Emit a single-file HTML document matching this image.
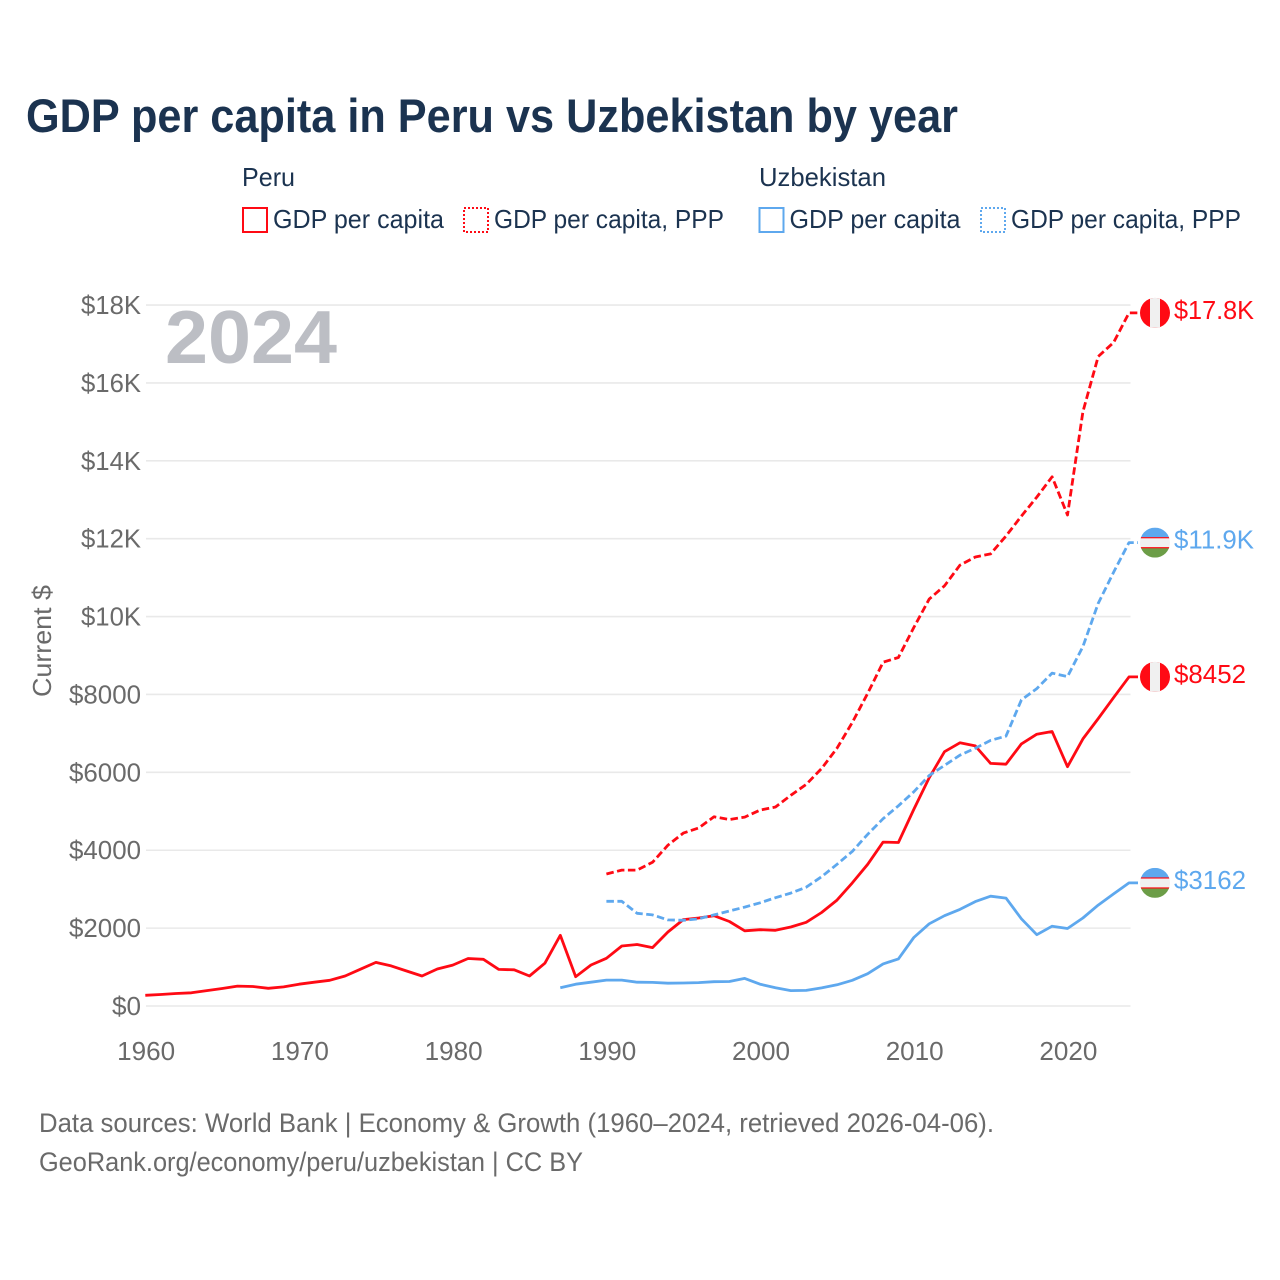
<!DOCTYPE html>
<html lang="en">
<head>
<meta charset="utf-8">
<title>GDP per capita in Peru vs Uzbekistan by year</title>
<style>
html,body{margin:0;padding:0;background:#fff;}
svg{display:block;}
text{font-family:"Liberation Sans",sans-serif;}
</style>
</head>
<body>
<svg id="chart" xmlns="http://www.w3.org/2000/svg" width="1280" height="1280" viewBox="0 0 1280 1280">
  <defs>
    <clipPath id="flag-clip"><circle cx="0" cy="0" r="15"/></clipPath>
  </defs>
  <rect x="0" y="0" width="1280" height="1280" fill="#ffffff"/>
  <text x="26" y="132" font-size="47" font-weight="700" fill="#1b3350" textLength="932" lengthAdjust="spacingAndGlyphs">GDP per capita in Peru vs Uzbekistan by year</text>

  <g font-size="26" fill="#1b3350">
    <text x="242" y="186" textLength="53" lengthAdjust="spacingAndGlyphs">Peru</text>
    <text x="759" y="186" textLength="127" lengthAdjust="spacingAndGlyphs">Uzbekistan</text>
    <g>
      <rect x="243" y="208" width="24" height="24" fill="none" stroke="#ff0a14" stroke-width="2"/>
      <text x="273" y="228" textLength="171" lengthAdjust="spacingAndGlyphs">GDP per capita</text>
    </g>
    <g>
      <rect x="464" y="208" width="24" height="24" fill="none" stroke="#ff0a14" stroke-width="2" stroke-dasharray="2 2"/>
      <text x="494" y="228" textLength="230" lengthAdjust="spacingAndGlyphs">GDP per capita, PPP</text>
    </g>
    <g>
      <rect x="759.5" y="208" width="24" height="24" fill="none" stroke="#5ea8ee" stroke-width="2"/>
      <text x="789.5" y="228" textLength="171" lengthAdjust="spacingAndGlyphs">GDP per capita</text>
    </g>
    <g>
      <rect x="981" y="208" width="24" height="24" fill="none" stroke="#5ea8ee" stroke-width="2" stroke-dasharray="2 2"/>
      <text x="1011" y="228" textLength="230" lengthAdjust="spacingAndGlyphs">GDP per capita, PPP</text>
    </g>
  </g>

  <g id="grid"></g>
  <g id="y-axis"></g>
  <g id="x-axis"></g>

  <text x="165" y="363" font-size="75" font-weight="700" fill="#bcbec4" textLength="172" lengthAdjust="spacingAndGlyphs">2024</text>
  <text transform="translate(51,697) rotate(-90)" font-size="26" fill="#6a6a6a" textLength="112" lengthAdjust="spacingAndGlyphs">Current $</text>

  <g id="series"></g>
  <g id="end-labels"></g>

  <g font-size="27" fill="#6a6a6a">
    <text x="39" y="1132" textLength="955" lengthAdjust="spacingAndGlyphs">Data sources: World Bank | Economy &amp; Growth (1960–2024, retrieved 2026-04-06).</text>
    <text x="39" y="1171" textLength="544" lengthAdjust="spacingAndGlyphs">GeoRank.org/economy/peru/uzbekistan | CC BY</text>
  </g>
</svg>
<script>
const yTickValues = [0, 2000, 4000, 6000, 8000, 10000, 12000, 14000, 16000, 18000];
const yTickLabels = ["$0", "$2000", "$4000", "$6000", "$8000", "$10K", "$12K", "$14K", "$16K", "$18K"];
const xTickYears = [1960, 1970, 1980, 1990, 2000, 2010, 2020];

const peruGdpStart = 1960;
const peruGdp = [275, 295, 320, 340, 395, 450, 510, 500, 455, 490, 560, 610, 660, 770, 945, 1120, 1030, 900, 770, 950, 1050, 1220, 1200, 940, 930, 770, 1100, 1815, 752, 1053, 1226, 1540, 1580, 1500, 1900, 2220, 2260, 2320, 2170, 1930, 1960, 1945, 2030, 2150, 2400, 2720, 3160, 3640, 4210, 4200, 5050, 5860, 6530, 6760, 6680, 6230, 6210, 6730, 6980, 7050, 6146, 6860, 7380, 7920, 8452];

const peruPppStart = 1990;
const peruPpp = [3390, 3490, 3490, 3690, 4130, 4440, 4570, 4860, 4790, 4850, 5030, 5110, 5410, 5690, 6100, 6620, 7280, 8030, 8830, 8950, 9720, 10450, 10790, 11320, 11530, 11610, 12070, 12580, 13070, 13590, 12610, 15260, 16680, 17040, 17800];

const uzbekistanGdpStart = 1987;
const uzbekistanGdp = [470, 560, 610, 665, 665, 610, 605, 585, 590, 600, 625, 630, 710, 560, 470, 395, 400, 465, 545, 660, 830, 1080, 1210, 1760, 2110, 2320, 2480, 2680, 2820, 2770, 2240, 1830, 2050, 1990, 2260, 2590, 2880, 3162];

const uzbekistanPppStart = 1990;
const uzbekistanPpp = [2690, 2690, 2380, 2340, 2210, 2200, 2240, 2340, 2440, 2540, 2650, 2780, 2900, 3050, 3320, 3640, 3970, 4410, 4810, 5140, 5500, 5920, 6180, 6440, 6620, 6820, 6930, 7860, 8150, 8550, 8460, 9230, 10340, 11140, 11900];

const endValueLabels = ["$8452", "$17.8K", "$3162", "$11.9K"];

const NS = "http://www.w3.org/2000/svg";
const RED = "#ff0a14";
const BLUE = "#5ea8ee";
const LEFT = 145.3;
const X_PER_YEAR = 15.37;
const ZERO_Y = 1006;
const Y_PER_UNIT = 0.03894;
const RIGHT_YEAR = 2024;
const FLAG_X = 1155;
const LINE_WIDTH = 2.8;

function xScale(year) { return LEFT + (year - 1960) * X_PER_YEAR; }
function yScale(value) { return ZERO_Y - value * Y_PER_UNIT; }
function make(tag, attrs, parent) {
  const el = document.createElementNS(NS, tag);
  for (const k in attrs) el.setAttribute(k, attrs[k]);
  parent.appendChild(el);
  return el;
}

const gridGroup = document.getElementById("grid");
const yAxisGroup = document.getElementById("y-axis");
yTickValues.forEach(function (value, i) {
  const y = yScale(value);
  const line = make("line", { x1: 146, x2: 1130.5, y1: y, y2: y, stroke: "#e9e9e9", "stroke-width": 1.6 }, gridGroup);
  
  
  const label = make("text", { x: 141, y: y + 9, "text-anchor": "end", "font-size": 26, fill: "#6a6a6a", textLength: yTickLabels[i].length === 2 ? 29 : (yTickLabels[i].length === 4 ? 60 : 72), lengthAdjust: "spacingAndGlyphs" }, yAxisGroup);
  label.textContent = yTickLabels[i];
  
  
});

const xAxisGroup = document.getElementById("x-axis");
xTickYears.forEach(function (year) {
  const label = make("text", { x: xScale(year) + 0.9, y: 1060, "text-anchor": "middle", "font-size": 26, fill: "#6a6a6a", textLength: 58, lengthAdjust: "spacingAndGlyphs" }, xAxisGroup);
  label.textContent = String(year);
  
  
});

function linePoints(startYear, values) {
  const pts = values.map(function (v, i) { return xScale(startYear + i).toFixed(1) + "," + yScale(v).toFixed(1); });
  const last = values[values.length - 1];
  pts.push("1138," + yScale(last).toFixed(1));
  return pts.join(" ");
}

const seriesGroup = document.getElementById("series");

const lineUzbekistanGdp = make("polyline", { points: linePoints(uzbekistanGdpStart, uzbekistanGdp), fill: "none", stroke: BLUE, "stroke-width": LINE_WIDTH, "stroke-linejoin": "round" }, seriesGroup);



const linePeruGdp = make("polyline", { points: linePoints(peruGdpStart, peruGdp), fill: "none", stroke: RED, "stroke-width": LINE_WIDTH, "stroke-linejoin": "round" }, seriesGroup);



const linePeruPpp = make("polyline", { points: linePoints(peruPppStart, peruPpp), fill: "none", stroke: RED, "stroke-width": LINE_WIDTH, "stroke-linejoin": "round", "stroke-dasharray": "7.5 3.5" }, seriesGroup);



const lineUzbekistanPpp = make("polyline", { points: linePoints(uzbekistanPppStart, uzbekistanPpp), fill: "none", stroke: BLUE, "stroke-width": LINE_WIDTH, "stroke-linejoin": "round", "stroke-dasharray": "7.5 3.5" }, seriesGroup);



const endGroup = document.getElementById("end-labels");

function drawPeruFlag(y) {
  const g = make("g", { transform: "translate(" + FLAG_X + "," + y + ")", "clip-path": "url(#flag-clip)" }, endGroup);
  
  
  make("rect", { x: -15, y: -15, width: 30, height: 30, fill: RED }, g);
  make("rect", { x: -5, y: -15, width: 10, height: 30, fill: "#f0f0f0" }, g);
}
function drawUzbekistanFlag(y) {
  const g = make("g", { transform: "translate(" + FLAG_X + "," + y + ")", "clip-path": "url(#flag-clip)" }, endGroup);
  
  
  make("rect", { x: -15, y: -15, width: 30, height: 10, fill: BLUE }, g);
  make("rect", { x: -15, y: -5, width: 30, height: 10, fill: "#f0f0f0" }, g);
  make("rect", { x: -15, y: 5, width: 30, height: 10, fill: "#6c9d47" }, g);
  make("rect", { x: -15, y: -5.5, width: 30, height: 1.2, fill: RED }, g);
  make("rect", { x: -15, y: 4.5, width: 30, height: 1.2, fill: RED }, g);
}
function drawEndLabel(y, text, color, width) {
  const t = make("text", { x: 1174, y: y + 6, "font-size": 26, fill: color, textLength: width, lengthAdjust: "spacingAndGlyphs" }, endGroup);
  t.textContent = text;
  
  
}

const peruGdpEndY = yScale(peruGdp[peruGdp.length - 1]);
const peruPppEndY = yScale(peruPpp[peruPpp.length - 1]);
const uzbekistanGdpEndY = yScale(uzbekistanGdp[uzbekistanGdp.length - 1]);
const uzbekistanPppEndY = yScale(uzbekistanPpp[uzbekistanPpp.length - 1]);

drawPeruFlag(peruGdpEndY);
drawPeruFlag(peruPppEndY);
drawUzbekistanFlag(uzbekistanGdpEndY);
drawUzbekistanFlag(uzbekistanPppEndY);

drawEndLabel(peruGdpEndY, endValueLabels[0], RED, 72);
drawEndLabel(peruPppEndY, endValueLabels[1], RED, 80);
drawEndLabel(uzbekistanGdpEndY, endValueLabels[2], BLUE, 72);
drawEndLabel(uzbekistanPppEndY, endValueLabels[3], BLUE, 80);
</script>
</body>
</html>
